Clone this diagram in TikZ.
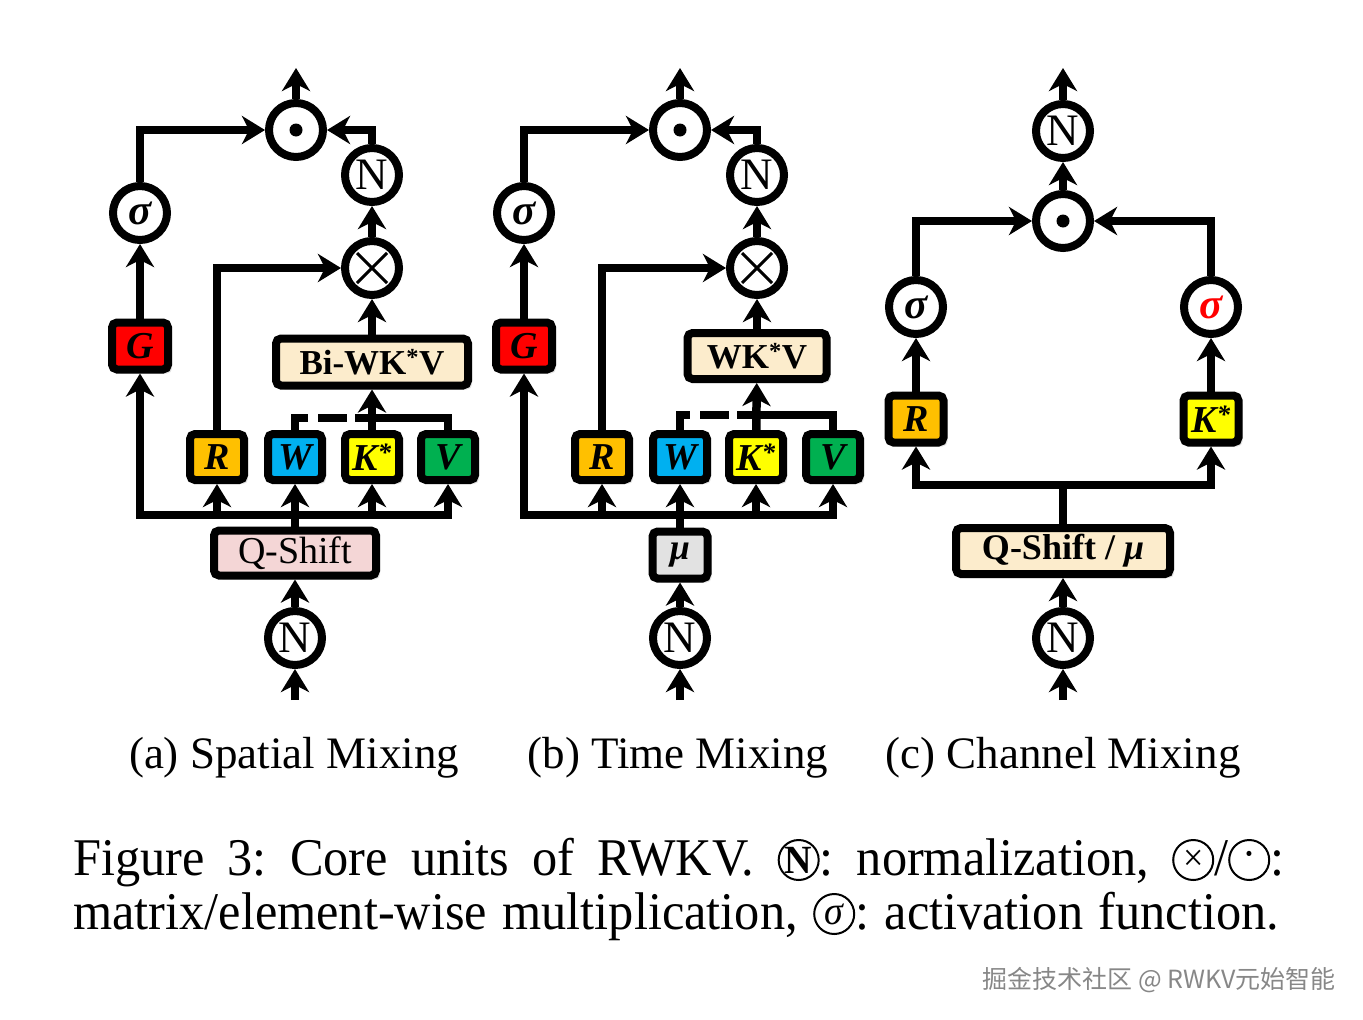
\documentclass[tikz,border=0pt]{standalone}
\usepackage{fontspec}
\setmainfont{Liberation Serif}
\newfontfamily\capfont[FakeStretch=0.95]{Liberation Serif}
\newfontfamily\cjkfont{Noto Sans CJK SC}
\usetikzlibrary{arrows.meta,shadows}
\definecolor{cG}{RGB}{255,0,0}
\definecolor{cR}{RGB}{255,192,0}
\definecolor{cW}{RGB}{0,176,240}
\definecolor{cK}{RGB}{255,255,0}
\definecolor{cV}{RGB}{0,176,80}
\definecolor{cBeige}{RGB}{252,236,204}
\definecolor{cPink}{RGB}{244,214,214}
\definecolor{cGray}{RGB}{226,226,226}
\definecolor{cMark}{RGB}{135,135,135}
\newcommand{\csym}[1]{\tikz[baseline={([yshift=-15pt]cs.center)}]\node[circle,draw,line width=2pt,minimum size=40pt,inner sep=0pt,outer sep=0pt](cs){#1};}
\tikzset{
  ln/.style={line width=8.5pt},
  arr/.style={ln,-{Stealth[length=23pt,width=28pt,inset=7pt]}},
  op/.style={circle,draw,line width=8pt,minimum size=54pt,inner sep=0pt,outer sep=4pt,fill=white,font=\fontsize{45}{45}\selectfont},
  sigop/.style={op,font=\fontsize{43}{43}\selectfont\bfseries\itshape},
  odotop/.style={op,path picture={\fill[black] (path picture bounding box.center) circle (6.5pt);}},
  otimesop/.style={op,path picture={\draw[black,line width=3pt]
      ([shift={(-15pt,-15pt)}]path picture bounding box.center) -- ([shift={(15pt,15pt)}]path picture bounding box.center)
      ([shift={(-15pt,15pt)}]path picture bounding box.center) -- ([shift={(15pt,-15pt)}]path picture bounding box.center);}},
  blk/.style={rectangle,draw,line width=8pt,rounded corners=5pt,inner sep=0pt,outer sep=4pt,
      drop shadow={shadow xshift=4pt,shadow yshift=-4pt,opacity=0.22}},
  sq/.style={blk,minimum width=54pt,minimum height=46pt,font=\fontsize{38}{38}\selectfont\bfseries\itshape},
  wide/.style={blk,minimum height=46pt,fill=cBeige,font=\fontsize{35}{35}\selectfont\bfseries},
  sub/.style={anchor=base,inner sep=0pt,font=\fontsize{45}{45}\selectfont},
  capline/.style={anchor=base west,inner sep=0pt,font=\fontsize{53}{53}\selectfont\capfont\frenchspacing},
}
\begin{document}
\begin{tikzpicture}[x=1pt,y=-1pt]
\useasboundingbox (0,0) rectangle (1363,1020);
% ---------------- (a) Spatial Mixing ----------------
\node[odotop] (a-dot) at (296,130) {};
\node[op] (a-N2) at (372,175) {N};
\node[sigop] (a-sig) at (140,213) {σ};
\node[otimesop] (a-x) at (372,268) {};
\node[sq,fill=cG,minimum width=56pt,minimum height=47pt] (a-G) at (140,346) {G};
\node[wide,minimum width=192pt,minimum height=47pt] (a-bi) at (372,362) {Bi-WK\textsuperscript{*}V};
\node[sq,fill=cR] (a-R) at (217,457) {R};
\node[sq,fill=cW] (a-W) at (295,457) {W};
\node[sq,fill=cK] (a-K) at (372,457) {K\textsuperscript{*}};
\node[sq,fill=cV] (a-V) at (448,457) {V};
\node[blk,fill=cPink,minimum width=162pt,minimum height=45pt,font=\fontsize{38}{38}\selectfont] (a-qs) at (295,553) {Q-Shift};
\node[op] (a-N1) at (295,638) {N};
\coordinate (a-in) at (295,700);
\coordinate (a-out) at (296,68);
\coordinate (a-busr) at (448,515);
\coordinate (a-br) at (372,418);
\draw[arr] (a-in) -- (a-N1);
\draw[arr] (a-N1) -- (a-qs);
\draw[arr,line cap=rect] (a-busr) -| (a-G.south);
\draw[arr] (a-R.south |- a-busr) -- (a-R.south);
\draw[arr] (a-qs.north) -- (a-W.south);
\draw[arr] (a-K.south |- a-busr) -- (a-K.south);
\draw[arr] (a-busr) -- (a-V.south);
\draw[ln,dash pattern=on 25pt off 10pt on 29pt off 8pt on 300pt off 0pt]
  (a-W.north) -- (a-W.north |- a-br) -- (a-V.north |- a-br) -- (a-V.north);
\draw[arr] (a-K) -- (a-bi);
\draw[arr] (a-bi) -- (a-x);
\draw[arr] (a-x) -- (a-N2);
\draw[arr] (a-N2.north) |- (a-dot.east);
\draw[arr] (a-R.north) |- (a-x.west);
\draw[arr] (a-G) -- (a-sig);
\draw[arr] (a-sig.north) |- (a-dot.west);
\draw[arr] (a-dot) -- (a-out);
% ---------------- (b) Time Mixing ----------------
\node[odotop] (b-dot) at (680,130) {};
\node[op] (b-N2) at (757,175) {N};
\node[sigop] (b-sig) at (524,213) {σ};
\node[otimesop] (b-x) at (757,268) {};
\node[sq,fill=cG,minimum width=56pt,minimum height=47pt] (b-G) at (524,346) {G};
\node[wide,minimum width=139pt] (b-wkv) at (757,356) {WK\textsuperscript{*}V};
\node[sq,fill=cR] (b-R) at (602,457) {R};
\node[sq,fill=cW] (b-W) at (680,457) {W};
\node[sq,fill=cK] (b-K) at (756,457) {K\textsuperscript{*}};
\node[sq,fill=cV] (b-V) at (833,457) {V};
\node[blk,fill=cGray,minimum width=55pt,minimum height=47pt,font=\fontsize{36}{36}\selectfont\bfseries\itshape] (b-mu) at (680,555) {μ};
\node[op] (b-N1) at (680,638) {N};
\coordinate (b-in) at (680,700);
\coordinate (b-out) at (680,68);
\coordinate (b-busr) at (833,515);
\coordinate (b-br) at (756,415);
\draw[arr] (b-in) -- (b-N1);
\draw[arr] (b-N1) -- (b-mu);
\draw[arr,line cap=rect] (b-busr) -| (b-G.south);
\draw[arr] (b-R.south |- b-busr) -- (b-R.south);
\draw[arr] (b-mu.north) -- (b-W.south);
\draw[arr] (b-K.south |- b-busr) -- (b-K.south);
\draw[arr] (b-busr) -- (b-V.south);
\draw[ln,dash pattern=on 25pt off 10pt on 29pt off 8pt on 300pt off 0pt]
  (b-W.north) -- (b-W.north |- b-br) -- (b-V.north |- b-br) -- (b-V.north);
\draw[arr] (b-K) -- (b-wkv);
\draw[arr] (b-wkv) -- (b-x);
\draw[arr] (b-x) -- (b-N2);
\draw[arr] (b-N2.north) |- (b-dot.east);
\draw[arr] (b-R.north) |- (b-x.west);
\draw[arr] (b-G) -- (b-sig);
\draw[arr] (b-sig.north) |- (b-dot.west);
\draw[arr] (b-dot) -- (b-out);
% ---------------- (c) Channel Mixing ----------------
\node[op] (c-N2) at (1063,131) {N};
\node[odotop] (c-dot) at (1063,221) {};
\node[sigop] (c-sl) at (916,307) {σ};
\node[sigop] (c-sr) at (1211,307) {\textcolor{red}{σ}};
\node[sq,fill=cR,minimum width=55pt,minimum height=47pt] (c-R) at (916,419) {R};
\node[sq,fill=cK,minimum width=55pt,minimum height=47pt] (c-K) at (1211,419) {K\textsuperscript{*}};
\node[blk,fill=cBeige,minimum width=214pt,minimum height=46pt,font=\fontsize{36}{36}\selectfont\bfseries] (c-qs) at (1063,551) {Q-Shift / \textit{μ}};
\node[op] (c-N1) at (1063,638) {N};
\coordinate (c-in) at (1063,700);
\coordinate (c-out) at (1063,68);
\coordinate (c-bus) at (1063,485);
\draw[arr] (c-in) -- (c-N1);
\draw[arr] (c-N1) -- (c-qs);
\draw[ln] (c-qs.north) -- (c-bus);
\draw[arr] (c-bus) -| (c-R.south);
\draw[arr] (c-bus) -| (c-K.south);
\draw[arr] (c-R) -- (c-sl);
\draw[arr] (c-K) -- (c-sr);
\draw[arr] (c-sl.north) |- (c-dot.west);
\draw[arr] (c-sr.north) |- (c-dot.east);
\draw[arr] (c-dot) -- (c-N2);
\draw[arr] (c-N2) -- (c-out);
% ---------------- captions ----------------
\node[sub] (capa) at (294,768) {(a) Spatial Mixing};
\node[sub] (capb) at (678,768) {(b) Time Mixing};
\node[sub] (capc) at (1063,768) {(c) Channel Mixing};
\node[capline] (cap1) at (73,875) {\makebox[1211pt][s]{Figure 3: Core units of RWKV. \csym{\fontsize{40}{40}\selectfont\bfseries N}: normalization, \csym{\fontsize{38}{38}\selectfont ×}/\csym{\fontsize{44}{44}\selectfont ·}:}};
\node[capline] (cap2) at (73,929) {\makebox[1206pt][s]{matrix/element-wise multiplication, \csym{\fontsize{40}{40}\selectfont\itshape σ}: activation function.}};
\node[anchor=base east,inner sep=0pt,text=cMark,font=\fontsize{25}{25}\selectfont\cjkfont] (mark) at (1336,988) {掘金技术社区 @ RWKV元始智能};
\end{tikzpicture}
\end{document}
